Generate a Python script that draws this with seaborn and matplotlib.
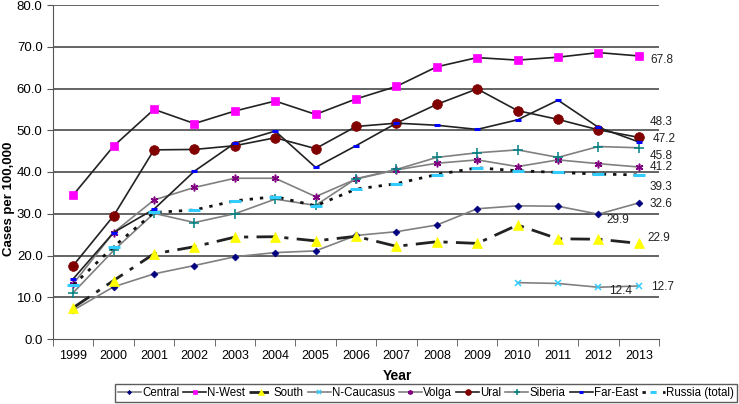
import numpy as np
import pandas as pd
import matplotlib
matplotlib.use("Agg")
import matplotlib.pyplot as plt
import seaborn as sns

years = list(range(1999, 2014))

central = [6.9, 12.5, 15.6, 17.6, 19.7, 20.7, 21.1, 24.8, 25.7, 27.3, 31.2, 31.9, 31.8, 29.9, 32.6]
n_west = [34.5, 46.2, 55.0, 51.6, 54.6, 57.0, 53.8, 57.5, 60.5, 65.2, 67.4, 66.8, 67.5, 68.6, 67.8]
south = [7.5, 14.0, 20.4, 22.1, 24.4, 24.5, 23.5, 24.6, 22.2, 23.3, 22.9, 27.3, 24.0, 23.9, 22.9]
n_caucasus = [np.nan] * 11 + [13.5, 13.3, 12.4, 12.7]
volga = [13.2, 25.5, 33.3, 36.3, 38.5, 38.5, 34.1, 38.3, 40.5, 42.1, 42.9, 41.3, 42.9, 42.0, 41.2]
ural = [17.6, 29.5, 45.3, 45.4, 46.3, 48.2, 45.6, 50.9, 51.7, 56.2, 59.9, 54.7, 52.6, 50.1, 48.3]
siberia = [11.1, 21.2, 30.1, 27.9, 30.0, 33.5, 32.0, 38.4, 40.6, 43.5, 44.6, 45.3, 43.5, 46.1, 45.8]
far_east = [14.4, 25.5, 31.1, 40.2, 46.9, 49.8, 41.1, 46.3, 51.7, 51.2, 50.2, 52.5, 57.2, 50.7, 47.2]
russia = [12.9, 22.1, 30.3, 30.9, 33.1, 34.1, 31.9, 35.9, 37.2, 39.4, 41.0, 40.3, 39.9, 39.5, 39.3]

series = {
    "Central": central, "N-West": n_west, "South": south, "N-Caucasus": n_caucasus,
    "Volga": volga, "Ural": ural, "Siberia": siberia, "Far-East": far_east,
    "Russia (total)": russia,
}

# line colour, marker, marker colour, marker size, linestyle
styles = {
    "Central": ("#808080", "D", "#000080", 3.5, "-"),
    "N-West": ("#222222", "s", "#ff00ff", 6, "-"),
    "South": ("#222222", "^", "#ffff00", 7, (0, (7, 3, 1.5, 3))),
    "N-Caucasus": ("#808080", "x", "#33ccff", 4.5, "-"),
    "Volga": ("#808080", (6, 2, 0), "#800080", 5.5, "-"),
    "Ural": ("#222222", "o", "#800000", 7, "-"),
    "Siberia": ("#808080", "+", "#008080", 6.5, "-"),
    "Far-East": ("#222222", "_", "#0000ff", 4.5, "-"),
    "Russia (total)": ("#111111", "_", "#33ccff", 8, (0, (1.2, 2.5))),
}

df = pd.DataFrame(series, index=years).reset_index(names="Year")

plt.rcParams["font.family"] = ["Liberation Sans", "DejaVu Sans"]
fig, ax = plt.subplots(figsize=(7.39, 4.04), dpi=100)
fig.subplots_adjust(left=53 / 739, right=659 / 739, bottom=1 - 339 / 404, top=1 - 5 / 404)

for name in series:
    lc, mk, mc, ms, ls = styles[name]
    lw = 2.0 if name in ("South", "Russia (total)") else 1.2
    if mk == "_":
        mew = 2.2
    elif mk in ("x", "+", (6, 2, 0)):
        mew = 1.1
    else:
        mew = 0.5
    sns.lineplot(data=df, x="Year", y=name, ax=ax, color=lc, linestyle=ls, linewidth=lw,
                 marker=mk, markersize=ms, markerfacecolor=mc, markeredgecolor=mc,
                 markeredgewidth=mew, label=name, zorder=3)

for y in range(10, 90, 10):
    ax.axhline(y, color="#3a3a3a", lw=1.1, zorder=1)

ax.set_xlim(1998.5, 2013.5)
ax.set_ylim(0, 80)
ax.set_yticks(range(0, 90, 10))
ax.set_yticklabels([f"{v:.1f}" for v in range(0, 90, 10)], fontsize=9.5)
ax.set_xticks(years)
ax.set_xticklabels([str(y) for y in years], fontsize=9)
ax.set_xticks(np.arange(1998.5, 2014, 1), minor=True)
ax.tick_params(axis="x", which="major", length=0, pad=8)
ax.tick_params(axis="x", which="minor", length=5, direction="out", color="#555555")
ax.tick_params(axis="y", length=4, direction="out", color="#555555")
for s in ("top", "right"):
    ax.spines[s].set_visible(False)
for s in ("left", "bottom"):
    ax.spines[s].set_color("#555555")

ax.set_xlabel("Year", fontsize=10, fontweight="bold")
ax.set_ylabel("Cases per 100,000", fontsize=9.5, fontweight="bold")
ax.xaxis.set_label_coords((397 - 53) / 606, -0.09)
ax.yaxis.set_label_coords(-0.062, 0.42)

# value labels at the right end
end_labels = [
    (2013, n_west[-1], 8, -3),
    (2013, ural[-1], 8, 11),
    (2013, far_east[-1], 10, 2),
    (2013, siberia[-1], 8, -6),
    (2013, volga[-1], 8, 0),
    (2013, russia[-1], 8, -9),
    (2013, central[-1], 8, -1),
    (2012, central[-2], 6, -4),
    (2013, south[-1], 6, 4),
    (2012, n_caucasus[-2], 8, -3),
    (2013, n_caucasus[-1], 9, -1),
]
for x, v, dx, dy in end_labels:
    ax.annotate(f"{v:.1f}", xy=(x, v), xytext=(dx, dy), textcoords="offset points",
                fontsize=8.5, va="center", ha="left", color="#222222")

ax.get_legend().remove()
handles, labels = ax.get_legend_handles_labels()
leg = fig.legend(handles, labels, loc="lower right", bbox_to_anchor=(738 / 739, 1 / 404),
                 ncol=9, fontsize=8.3, frameon=True, fancybox=False, edgecolor="#333333",
                 handlelength=2.0, handletextpad=0.1, columnspacing=0.35, borderpad=0.25,
                 borderaxespad=0.1, markerscale=0.6)
leg.get_frame().set_linewidth(1.0)

fig.savefig("out.png", dpi=100)
